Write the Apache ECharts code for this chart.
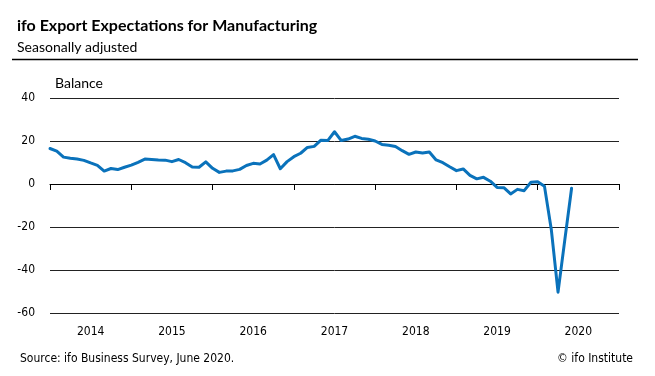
<!DOCTYPE html>
<html>
<head>
<meta charset="utf-8">
<script src="https://cdn.jsdelivr.net/npm/echarts@6/dist/echarts.min.js"></script>
<style>
html,body{margin:0;padding:0;background:#fff;}
#c{width:655px;height:376px;}
</style>
</head>
<body>
<div id="c"></div>
<script>
var years = ['2014','2015','2016','2017','2018','2019','2020'];
var yTicks = [-60, -40, -20, 0, 20, 40];
var values = [
  16.5, 15.3, 12.5, 12.0, 11.6, 11.0, 9.8, 8.7, 6.0, 7.2, 6.7, 7.8,
  8.8, 10.1, 11.6, 11.4, 11.2, 11.1, 10.4, 11.4, 9.9, 7.9, 7.8, 10.3,
  7.3, 5.4, 6.0, 6.1, 6.8, 8.6, 9.6, 9.3, 11.1, 13.7, 7.1, 10.4,
  12.7, 14.3, 17.0, 17.5, 20.4, 20.2, 24.3, 20.2, 20.9, 22.2, 21.2, 20.8,
  20.0, 18.4, 18.0, 17.4, 15.5, 13.8, 14.9, 14.4, 14.9, 11.2, 9.9, 8.0,
  6.2, 7.0, 4.0, 2.4, 3.1, 1.3, -1.6, -1.7, -4.6, -2.5, -3.1, 0.8,
  1.0, -1.1, -21.0, -50.3, -26.0, -2.0
];
// monthly categories Jan 2014 .. Jan 2021 (axis end)
var months = [];
for (var y = 2014; y <= 2020; y++) for (var m = 1; m <= 12; m++) months.push(y + '-' + (m < 10 ? '0' + m : m));
months.push('2021-01');

var chart = echarts.init(document.getElementById('c'), null, {renderer: 'canvas'});
var axisFont = 'DejaVu Sans Condensed, DejaVu Sans, sans-serif';
chart.setOption({
  animation: false,
  backgroundColor: '#ffffff',
  title: [
    {text: 'ifo Export Expectations for Manufacturing', left: 12, top: 13,
     textStyle: {fontFamily: 'Lato, sans-serif', fontWeight: 'bold', fontSize: 16, color: '#000'}},
    {text: 'Seasonally adjusted', left: 12, top: 35,
     textStyle: {fontFamily: 'Lato, sans-serif', fontWeight: 'normal', fontSize: 14, color: '#000'}},
    {text: 'Balance', left: 50, top: 71,
     textStyle: {fontFamily: 'Lato, sans-serif', fontWeight: 'normal', fontSize: 14, color: '#000'}},
    {text: 'Source: ifo Business Survey, June 2020.', left: 15, top: 348,
     textStyle: {fontFamily: axisFont, fontWeight: 'normal', fontSize: 12, color: '#000'}},
    {text: '\u00a9 ifo Institute', right: 17, top: 348,
     textStyle: {fontFamily: axisFont, fontWeight: 'normal', fontSize: 12, color: '#000'}}
  ],
  graphic: [
    {type: 'line', shape: {x1: 12, y1: 59.5, x2: 638, y2: 59.5}, style: {stroke: '#000', lineWidth: 1.5}}
  ],
  grid: {left: 50, right: 36, top: 98, bottom: 63, containLabel: false},
  xAxis: [
    {type: 'category', data: years, boundaryGap: true, position: 'bottom',
     axisLine: {show: true, lineStyle: {color: '#000', width: 1}},
     axisTick: {show: true, interval: 0, length: 6, lineStyle: {color: '#000'}},
     axisLabel: {show: true, interval: 0, margin: 13, fontFamily: axisFont, fontSize: 12, color: '#000'},
     splitLine: {show: false}},
    {type: 'category', data: months, boundaryGap: false, position: 'bottom',
     axisLine: {show: false}, axisTick: {show: false}, axisLabel: {show: false}, splitLine: {show: false}}
  ],
  yAxis: {
    type: 'value', min: yTicks[0], max: yTicks[yTicks.length - 1], interval: 20,
    axisLine: {show: false}, axisTick: {show: false},
    axisLabel: {fontFamily: axisFont, fontSize: 12, color: '#000', margin: 15},
    splitLine: {show: true, lineStyle: {color: '#222', width: 1}}
  },
  series: [{
    type: 'line', xAxisIndex: 1, data: values, showSymbol: false, smooth: false,
    lineStyle: {color: '#0a72bb', width: 3, cap: 'round', join: 'round'}
  }]
});
</script>
</body>
</html>
